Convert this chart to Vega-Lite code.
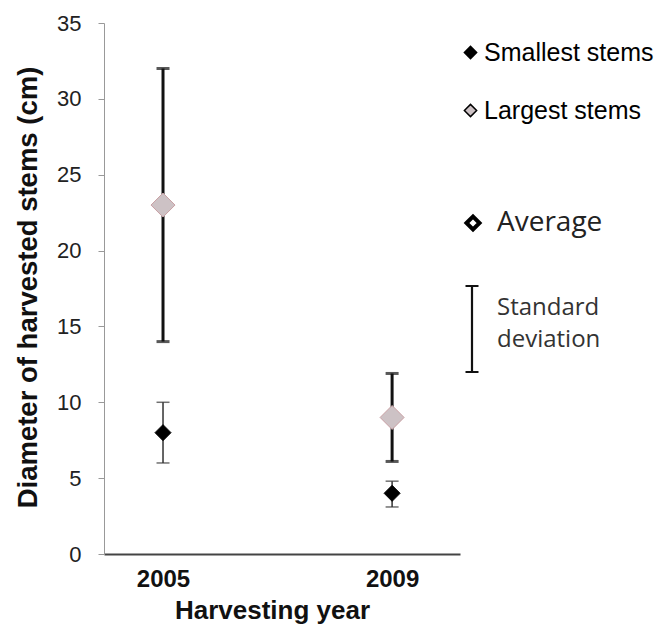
{
  "$schema": "https://vega.github.io/schema/vega-lite/v6.json",
  "autosize": {"type": "none"},
  "padding": {"left": 104, "top": 23, "right": 196, "bottom": 76},
  "width": 356,
  "height": 531,
  "background": "white",
  "config": {"view": {"stroke": null}, "legend": {"padding": 0}},
  "data": {"values": [
    {"year": "2005", "series": "Smallest stems", "mean": 8, "low": 6, "high": 10},
    {"year": "2005", "series": "Largest stems", "mean": 23, "low": 14, "high": 32},
    {"year": "2009", "series": "Smallest stems", "mean": 4, "low": 3.1, "high": 4.8},
    {"year": "2009", "series": "Largest stems", "mean": 9, "low": 6.1, "high": 11.9}
  ]},
  "encoding": {
    "x": {
      "field": "year", "type": "ordinal",
      "scale": {"type": "point", "padding": 0.277, "align": 0.465},
      "axis": {
        "title": "Harvesting year", "labelAngle": 0, "ticks": false, "tickSize": 0,
        "domainColor": "#444", "domainWidth": 2,
        "labelFont": "Liberation Sans", "labelFontSize": 24, "labelFontWeight": "bold", "labelColor": "#111", "labelPadding": 13,
        "titleFont": "Liberation Sans", "titleFontSize": 26, "titleFontWeight": "bold", "titleColor": "#111",
        "titleBaseline": "alphabetic", "titleX": 168, "titleY": 64
      }
    }
  },
  "layer": [
    {
      "transform": [{"filter": "datum.series == 'Largest stems'"}],
      "mark": {"type": "rule", "strokeWidth": 3, "color": "#111"},
      "encoding": {
        "y": {
          "field": "low", "type": "quantitative",
          "scale": {"domain": [0, 35], "nice": false, "zero": true},
          "axis": {
            "title": "Diameter of harvested stems (cm)", "values": [0, 5, 10, 15, 20, 25, 30, 35], "grid": false,
            "domainColor": "#999", "tickColor": "#999", "tickSize": 6,
            "labelFont": "Liberation Sans", "labelFontSize": 22, "labelColor": "#222", "labelPadding": 17,
            "titleFont": "Liberation Sans", "titleFontSize": 27.5, "titleFontWeight": "bold", "titleColor": "#111",
            "titleBaseline": "alphabetic", "titleX": -68, "titleY": 264
          }
        },
        "y2": {"field": "high"},
        "strokeDash": {
          "datum": "Standard deviation",
          "scale": {"domain": ["Standard deviation"], "range": [[1, 0]]},
          "legend": {
            "title": null, "orient": "none", "legendX": 356, "legendY": 294,
            "symbolType": "M -1.3 -8.6 L 1.3 -8.6 M 0 -8.6 L 0 8.6 M -1.3 8.6 L 1.3 8.6",
            "symbolSize": 100, "symbolStrokeWidth": 2.2, "symbolStrokeColor": "#111",
            "labelFont": "Open Sans", "labelFontSize": 24, "labelColor": "#333", "labelOffset": 13, "labelLimit": 300,
            "labelExpr": "['Standard', 'deviation']",
            "encode": {"labels": {"update": {"lineHeight": {"value": 32}, "dy": {"value": -21}}}, "symbols": {"update": {"stroke": {"value": "#111"}, "strokeWidth": {"value": 2.2}, "strokeDash": {"value": [1, 0]}}}}
          }
        }
      }
    },
    {
      "transform": [{"filter": "datum.series == 'Largest stems'"}],
      "mark": {"type": "tick", "size": 13, "thickness": 3, "color": "#111"},
      "encoding": {"y": {"field": "low", "type": "quantitative"}}
    },
    {
      "transform": [{"filter": "datum.series == 'Largest stems'"}],
      "mark": {"type": "tick", "size": 13, "thickness": 3, "color": "#111"},
      "encoding": {"y": {"field": "high", "type": "quantitative"}}
    },
    {
      "transform": [{"filter": "datum.series == 'Smallest stems'"}],
      "mark": {"type": "rule", "strokeWidth": 1.5, "color": "#333"},
      "encoding": {"y": {"field": "low", "type": "quantitative"}, "y2": {"field": "high"}}
    },
    {
      "transform": [{"filter": "datum.series == 'Smallest stems'"}],
      "mark": {"type": "tick", "size": 13, "thickness": 1.5, "color": "#333"},
      "encoding": {"y": {"field": "low", "type": "quantitative"}}
    },
    {
      "transform": [{"filter": "datum.series == 'Smallest stems'"}],
      "mark": {"type": "tick", "size": 13, "thickness": 1.5, "color": "#333"},
      "encoding": {"y": {"field": "high", "type": "quantitative"}}
    },
    {
      "mark": {"type": "point", "filled": true, "opacity": 1, "strokeWidth": 1},
      "encoding": {
        "y": {"field": "mean", "type": "quantitative"},
        "fill": {
          "field": "series", "type": "nominal",
          "scale": {"domain": ["Smallest stems", "Largest stems"], "range": ["#000000", "#CDC2C5"]},
          "legend": {
            "title": null, "orient": "none", "legendX": 354, "legendY": 17,
            "symbolType": "diamond", "symbolSize": 150, "rowPadding": 32,
            "labelFont": "Liberation Sans", "labelFontSize": 25, "labelColor": "#000", "labelOffset": 1, "labelLimit": 300,
            "encode": {"symbols": {"update": {"stroke": {"signal": "datum.value == 'Largest stems' ? '#C9A0A4' : '#000000'"}, "strokeWidth": {"value": 1}, "opacity": {"value": 1}}}}
          }
        },
        "stroke": {"condition": {"test": "datum.series == 'Largest stems'", "value": "#C9A0A4"}, "value": "#000000"},
        "size": {"condition": {"test": "datum.series == 'Largest stems'", "value": 576}, "value": 256},
        "shape": {
          "datum": "Average",
          "scale": {"domain": ["Average"], "range": ["diamond"]},
          "legend": {
            "title": null, "orient": "none", "legendX": 355, "legendY": 186,
            "symbolSize": 170, "symbolFillColor": "white", "symbolStrokeColor": "black", "symbolStrokeWidth": 4,
            "labelFont": "Open Sans", "labelFontSize": 28, "labelColor": "#222", "labelOffset": 10, "labelLimit": 300,
            "encode": {"symbols": {"update": {"fill": {"value": "white"}, "stroke": {"value": "#000"}, "strokeWidth": {"value": 4}, "opacity": {"value": 1}}}}
          }
        }
      }
    }
  ]
}
